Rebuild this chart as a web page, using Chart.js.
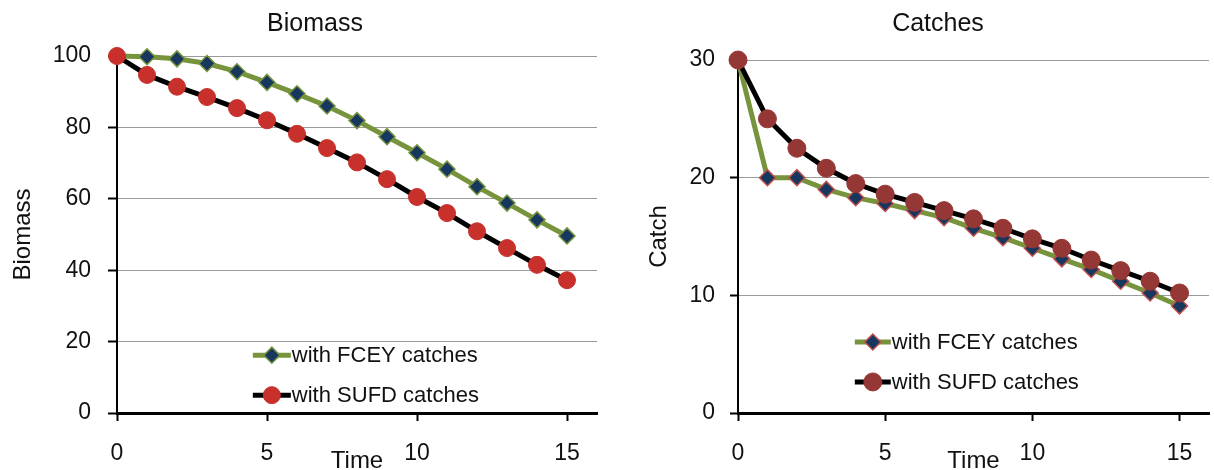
<!DOCTYPE html>
<html>
<head>
<meta charset="utf-8">
<script src="https://cdn.jsdelivr.net/npm/chart.js@4.4.0/dist/chart.umd.min.js"></script>
<style>
    html, body { margin: 0; padding: 0; background: #fff; overflow: hidden; width: 1214px; height: 470px; }
    #left { position: absolute; left: 0; top: 0; }
    #right { position: absolute; left: 605px; top: 0; }
</style>
</head>
<body>
<canvas id="left" width="630" height="470"></canvas>
<canvas id="right" width="614" height="470"></canvas>
<script>
var time = [0, 1, 2, 3, 4, 5, 6, 7, 8, 9, 10, 11, 12, 13, 14, 15];
var timeTicks = [0, 5, 10, 15];
var biomassFCEY = [100, 99.8, 99.2, 97.9, 95.6, 92.6, 89.4, 86.0, 81.9, 77.4, 72.9, 68.3, 63.4, 58.8, 54.1, 49.6];
var biomassSUFD = [100, 94.7, 91.4, 88.5, 85.4, 82.0, 78.2, 74.2, 70.2, 65.5, 60.5, 56.0, 50.9, 46.2, 41.5, 37.2];
var catchFCEY = [30, 20, 20, 19.0, 18.3, 17.8, 17.2, 16.6, 15.7, 14.9, 14.0, 13.1, 12.2, 11.2, 10.2, 9.1];
var catchSUFD = [30, 25, 22.5, 20.8, 19.5, 18.6, 17.9, 17.2, 16.5, 15.7, 14.8, 14.0, 13.0, 12.1, 11.2, 10.2];
var seriesNames = ['with FCEY catches', 'with SUFD catches'];

var FONT = 'Liberation Sans, Arial, sans-serif';

function pts(ys) {
    var out = [];
    for (var i in time) {
        out.push({ x: time[i], y: ys[i] });
    }
    return out;
}

// legend drawn inside the plot, line sample with marker in the middle
var inLegend = {
    id: 'inlegend',
    afterDraw: function (chart, args, opts) {
        var ctx = chart.ctx, a = chart.chartArea;
        var x = a.left + opts.x * (a.right - a.left);
        chart.data.datasets.forEach(function (ds, i) {
            var y = a.top + opts.y[i] * (a.bottom - a.top);
            ctx.save();
            ctx.strokeStyle = ds.borderColor;
            ctx.lineWidth = ds.borderWidth;
            ctx.beginPath();
            ctx.moveTo(x, y);
            ctx.lineTo(x + opts.len, y);
            ctx.stroke();
            ctx.fillStyle = ds.pointBackgroundColor;
            ctx.strokeStyle = ds.pointBorderColor;
            ctx.lineWidth = ds.pointBorderWidth;
            Chart.helpers.drawPoint(ctx, { pointStyle: ds.pointStyle, radius: ds.pointRadius, borderWidth: ds.pointBorderWidth }, x + opts.len / 2, y);
            ctx.fillStyle = '#111';
            ctx.font = '22px ' + FONT;
            ctx.textBaseline = 'middle';
            ctx.textAlign = 'left';
            ctx.fillText(ds.label, x + opts.len + 1, y + 1);
            ctx.restore();
        });
    }
};

function makeChart(id, cfg) {
    return new Chart(document.getElementById(id), {
        type: 'line',
        data: {
            datasets: [
                {
                    label: seriesNames[0],
                    data: pts(cfg.fcey),
                    borderColor: '#77933C',
                    borderWidth: 5,
                    pointStyle: 'rectRot',
                    pointRadius: 8,
                    pointBackgroundColor: '#17375E',
                    pointBorderColor: cfg.diamondEdge,
                    pointBorderWidth: 1.5,
                    tension: 0,
                    clip: false,
                    order: 1
                },
                {
                    label: seriesNames[1],
                    data: pts(cfg.sufd),
                    borderColor: '#000000',
                    borderWidth: 5,
                    pointStyle: 'circle',
                    pointRadius: cfg.circleR,
                    pointBackgroundColor: cfg.circleFill,
                    pointBorderColor: cfg.circleFill,
                    pointBorderWidth: 1,
                    tension: 0,
                    clip: false,
                    order: 0
                }
            ]
        },
        options: {
            responsive: false,
            animation: false,
            layout: { padding: { left: cfg.padL, right: cfg.padR, top: 0, bottom: 0 } },
            plugins: {
                legend: { display: false },
                tooltip: { enabled: false },
                title: {
                    display: true,
                    text: cfg.title,
                    color: '#111',
                    font: { family: FONT, size: 25, weight: 'normal', lineHeight: 1.2 },
                    padding: { top: 9, bottom: cfg.titleBottom }
                },
                inlegend: cfg.legend
            },
            scales: {
                x: {
                    type: 'linear',
                    min: 0,
                    max: 16,
                    afterBuildTicks: function (s) {
                        s.ticks = timeTicks.map(function (v) { return { value: v }; });
                    },
                    afterFit: function (s) { s.height = 57; },
                    ticks: { color: '#111', padding: 19, font: { family: FONT, size: 23 } },
                    grid: { drawOnChartArea: false, drawTicks: true, tickLength: 8, tickColor: '#000', tickWidth: 2 },
                    border: { color: '#000', width: 3 },
                    title: {
                        display: true,
                        text: 'Time',
                        color: '#111',
                        font: { family: FONT, size: 24 },
                        padding: { top: 0, bottom: -5.5 }
                    }
                },
                y: {
                    min: 0,
                    max: cfg.yMax,
                    afterFit: function (s) { s.width = cfg.yWidth; },
                    ticks: { stepSize: cfg.yStep, color: '#111', padding: cfg.tickPad, font: { family: FONT, size: 23 } },
                    grid: { color: '#9a9a9a', lineWidth: 1, tickLength: cfg.tickLen, tickColor: '#000', tickWidth: 2 },
                    border: { color: '#000', width: 2 },
                    title: {
                        display: true,
                        text: cfg.yTitle,
                        color: '#111',
                        font: { family: FONT, size: 24 },
                        padding: { top: cfg.yTitlePad, bottom: 0 }
                    }
                }
            }
        },
        plugins: [inLegend]
    });
}

makeChart('left', {
    title: 'Biomass',
    yTitle: 'Biomass',
    fcey: biomassFCEY,
    sufd: biomassSUFD,
    yMax: 100,
    yStep: 20,
    padL: 33,
    padR: 33,
    yWidth: 84,
    tickPad: 17,
    tickLen: 9,
    yTitlePad: -24.4,
    titleBottom: 17,
    diamondEdge: '#77933C',
    circleFill: '#C8302C',
    circleR: 8.5,
    legend: { x: 0.283, y: [0.838, 0.95], len: 38 }
});

makeChart('right', {
    title: 'Catches',
    yTitle: 'Catch',
    fcey: catchFCEY,
    sufd: catchSUFD,
    yMax: 30,
    yStep: 10,
    padL: 53,
    padR: 1,
    yWidth: 80,
    tickPad: 15,
    tickLen: 8,
    yTitlePad: -13.4,
    titleBottom: 21,
    diamondEdge: '#C0504D',
    circleFill: '#953735',
    circleR: 9,
    legend: { x: 0.248, y: [0.799, 0.912], len: 36 }
});
</script>
</body>
</html>
